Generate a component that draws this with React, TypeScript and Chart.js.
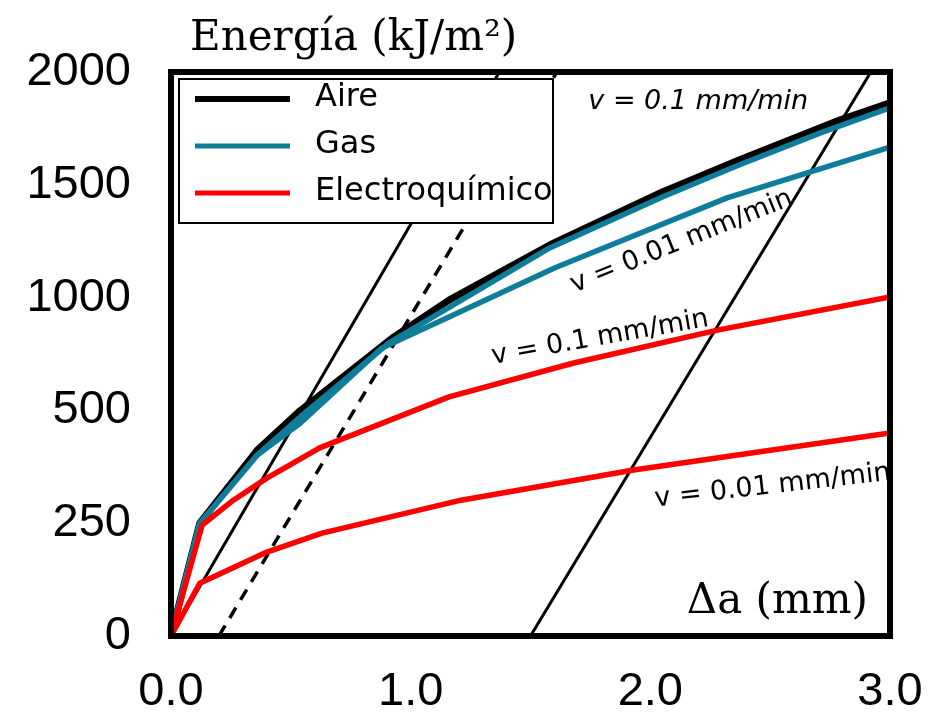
import React, { useEffect, useRef } from "react";
import { Chart, registerables } from "chart.js";

Chart.register(...registerables);

// Tick labels (y axis is drawn with evenly spaced ticks, as in the reference)
const yTickValues = [0, 250, 500, 1000, 1500, 2000];
const xTickValues = [0, 1, 2, 3];

// Aire (black)
const aireX = [0, 0.12, 0.36, 0.54, 0.93, 1.16, 1.58, 2.05, 2.37, 2.79, 3.0];
const aireY = [0, 250, 412, 500, 826, 989, 1233, 1468, 1610, 1787, 1863];

// Gas v = 0.1 mm/min (teal, upper)
const gasFastX = [0, 0.12, 0.36, 0.54, 0.91, 1.58, 2.05, 2.37, 2.71, 3.0];
const gasFastY = [0, 250, 401, 486, 799, 1220, 1446, 1588, 1730, 1841];

// Gas v = 0.01 mm/min (teal, lower)
const gasSlowX = [0, 0.12, 0.36, 0.54, 0.88, 1.16, 1.6, 2.32, 3.0];
const gasSlowY = [0, 250, 401, 472, 777, 914, 1131, 1442, 1667];

// Electroquímico v = 0.1 mm/min (red, upper)
const elecFastX = [0, 0.13, 0.26, 0.4, 0.62, 1.16, 1.68, 2.28, 3.0];
const elecFastY = [0, 246, 301, 350, 417, 560, 710, 856, 1003];

// Electroquímico v = 0.01 mm/min (red, lower)
const elecSlowX = [0, 0.12, 0.4, 0.63, 1.21, 1.93, 3.0];
const elecSlowY = [0, 117, 186, 228, 301, 368, 450];

// Reference (blunting / offset) lines
const refOriginX = [0, 1.37];
const refOriginY = [0, 2000];
const refOffsetX = [0.2, 1.61];
const refOffsetY = [0, 2000];
const refFarX = [1.5, 2.92];
const refFarY = [0, 2000];

const legendLabels = ["Aire", "Gas", "Electroquímico"];
const annotationTexts = ["v = 0.1 mm/min", "v = 0.01 mm/min", "v = 0.1 mm/min", "v = 0.01 mm/min"];

const BLACK = "#000000";
const TEAL = "#0f7d99";
const RED = "#ff0000";

// piecewise-linear map: energy value -> evenly spaced tick index
function toAxis(v: number): number {
  for (let i = 1; i < yTickValues.length; i++) {
    if (v <= yTickValues[i]) {
      const a = yTickValues[i - 1];
      const b = yTickValues[i];
      return i - 1 + (v - a) / (b - a);
    }
  }
  return yTickValues.length - 1;
}

function pts(xs: number[], ys: number[]) {
  return xs.map((x, i) => ({ x, y: toAxis(ys[i]) }));
}

const overlayPlugin = {
  id: "overlay",
  afterDatasetsDraw(chart: any) {
    const { ctx, chartArea: a, scales } = chart;
    const sx = scales.x;
    const sy = scales.y;
    ctx.save();
    // frame
    ctx.lineWidth = 6;
    ctx.strokeStyle = "#000";
    ctx.strokeRect(a.left, a.top, a.right - a.left, a.bottom - a.top);

    // legend box
    const lx = a.left + 8;
    const ly = a.top + 7;
    ctx.fillStyle = "#fff";
    ctx.fillRect(lx, ly, 374, 144);
    ctx.lineWidth = 2;
    ctx.strokeRect(lx, ly, 374, 144);
    const colors = [BLACK, TEAL, RED];
    const widths = [6, 5, 5];
    ctx.font = '32px "DejaVu Sans"';
    ctx.textAlign = "left";
    ctx.textBaseline = "middle";
    legendLabels.forEach((lab, i) => {
      const yy = ly + 20 + i * 47;
      ctx.strokeStyle = colors[i];
      ctx.lineWidth = widths[i];
      ctx.beginPath();
      ctx.moveTo(lx + 16, yy);
      ctx.lineTo(lx + 111, yy);
      ctx.stroke();
      ctx.fillStyle = "#000";
      ctx.fillText(lab, lx + 136, yy - 1);
    });

    // annotations
    const ann = [
      { t: annotationTexts[0], x: 2.2, y: 1866, ang: 0, it: true },
      { t: annotationTexts[1], x: 2.13, y: 1247, ang: -22, it: false },
      { t: annotationTexts[2], x: 1.79, y: 821, ang: -10, it: false },
      { t: annotationTexts[3], x: 2.51, y: 332, ang: -6.5, it: false },
    ];
    ann.forEach((n) => {
      ctx.save();
      ctx.translate(sx.getPixelForValue(n.x), sy.getPixelForValue(toAxis(n.y)));
      ctx.rotate((n.ang * Math.PI) / 180);
      ctx.font = (n.it ? "italic " : "") + '27px "DejaVu Sans"';
      ctx.fillStyle = "#000";
      ctx.textAlign = "center";
      ctx.textBaseline = "middle";
      ctx.fillText(n.t, 0, 0);
      ctx.restore();
    });

    // axis titles
    ctx.fillStyle = "#000";
    ctx.font = '42px "DejaVu Serif"';
    ctx.textAlign = "left";
    ctx.textBaseline = "alphabetic";
    ctx.fillText("Energía (kJ/m²)", a.left + 19, a.top - 22);
    ctx.textAlign = "right";
    ctx.fillText("Δa (mm)", a.right - 22, a.bottom - 23);
    ctx.restore();
  },
};

export default function App() {
  const ref = useRef<HTMLCanvasElement | null>(null);
  useEffect(() => {
    if (!ref.current) return;
    const line = (data: any, color: string, width: number, dash: number[] = []) => ({
      data,
      borderColor: color,
      backgroundColor: color,
      borderWidth: width,
      borderDash: dash,
      pointRadius: 0,
      tension: 0,
      fill: false,
      borderJoinStyle: "round",
    });
    const chart = new Chart(ref.current, {
      type: "line",
      data: {
        datasets: [
          line(pts(refOriginX, refOriginY), BLACK, 3),
          line(pts(refOffsetX, refOffsetY), BLACK, 3.5, [12, 9]),
          line(pts(refFarX, refFarY), BLACK, 3),
          { ...line(pts(aireX, aireY), BLACK, 7), label: legendLabels[0] },
          { ...line(pts(gasFastX, gasFastY), TEAL, 5.5), label: legendLabels[1] },
          { ...line(pts(gasSlowX, gasSlowY), TEAL, 5.5), label: legendLabels[1] },
          { ...line(pts(elecFastX, elecFastY), RED, 5.5), label: legendLabels[2] },
          { ...line(pts(elecSlowX, elecSlowY), RED, 5.5), label: legendLabels[2] },
        ].reverse() as any,
      },
      options: {
        animation: false,
        responsive: false,
        parsing: false as any,
        layout: { padding: { top: 72, right: 40, left: 0, bottom: 0 } },
        plugins: { legend: { display: false }, tooltip: { enabled: false } },
        scales: {
          x: {
            type: "linear",
            min: 0,
            max: 3,
            afterBuildTicks: (s: any) => {
              s.ticks = xTickValues.map((v) => ({ value: v }));
            },
            afterFit: (s: any) => {
              s.height = 76;
              s.paddingLeft = 0;
              s.paddingRight = 0;
            },
            grid: { display: false, drawTicks: false },
            border: { display: false },
            ticks: {
              padding: 28,
              color: "#000",
              font: { family: "Liberation Sans", size: 47 },
              callback: (v: any) => Number(v).toFixed(1),
              maxRotation: 0,
            },
          },
          y: {
            type: "linear",
            min: 0,
            max: yTickValues.length - 1,
            afterBuildTicks: (s: any) => {
              s.ticks = yTickValues.map((_, i) => ({ value: i }));
            },
            afterFit: (s: any) => {
              s.width = 171;
              s.paddingTop = 0;
              s.paddingBottom = 0;
            },
            grid: { display: false, drawTicks: false },
            border: { display: false },
            ticks: {
              padding: 40,
              color: "#000",
              font: { family: "Liberation Sans", size: 47 },
              callback: (v: any) => String(yTickValues[Math.round(Number(v))]),
            },
          },
        },
      },
      plugins: [overlayPlugin],
    });
    return () => chart.destroy();
  }, []);
  return (
    <div style={{ position: "fixed", left: 0, top: 0, width: 930, height: 712, background: "#fff" }}>
      <canvas ref={ref} width={930} height={712} style={{ width: 930, height: 712 }} />
    </div>
  );
}
